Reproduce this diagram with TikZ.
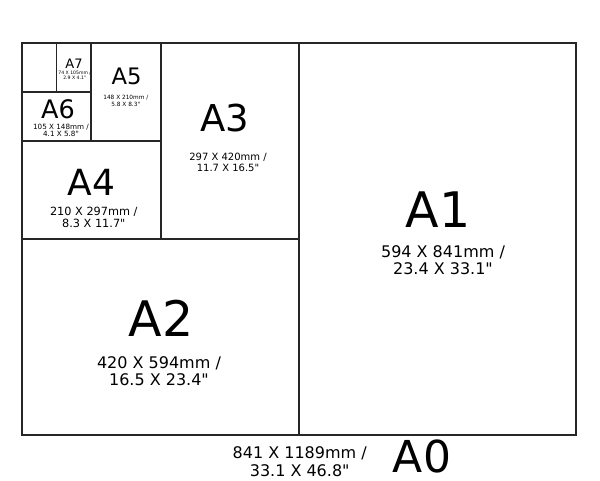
\documentclass[tikz,border=0pt]{standalone}
\usepackage{fontspec}
\setmainfont{DejaVu Sans}[Ligatures=TeXOff]
\tikzset{
  sheet/.style={line width=1.5pt, draw=black!85},
  papername/.style={inner sep=0pt, anchor=base},
  papersize/.style={inner sep=0pt, align=center},
}
\begin{document}
\begin{tikzpicture}[x=1pt,y=-1pt]
        \useasboundingbox (0,0) rectangle (600,480);

        % Draw the A0 sheet
        \draw[sheet] (22,43) rectangle (576,435);

        % Halve it again and again
        \draw[sheet] (299,43) -- (299,435);
        \draw[sheet] (22,239) -- (299,239);
        \draw[sheet] (161,43) -- (161,239);
        \draw[sheet] (22,141) -- (161,141);
        \draw[sheet] (91,43) -- (91,141);
        \draw[sheet] (22,92) -- (91,92);
        \draw[sheet] (56.5,43) -- (56.5,92);

        % Add names and sizes
        \node[papername, font=\fontsize{49}{49}\selectfont] (nameA1) at (438,227) {A1};
        \node[papersize, font=\fontsize{16}{17.5}\selectfont] (sizeA1) at (443,260) {594 X 841mm /\\23.4 X 33.1"};

        \node[papername, font=\fontsize{49}{49}\selectfont] (nameA2) at (161,336.7) {A2};
        \node[papersize, font=\fontsize{16}{17}\selectfont] (sizeA2) at (159,371.5) {420 X 594mm /\\16.5 X 23.4"};

        \node[papername, font=\fontsize{37}{37}\selectfont] (nameA3) at (225,131.7) {A3};
        \node[papersize, font=\fontsize{10}{11}\selectfont] (sizeA3) at (228,162.2) {297 X 420mm /\\11.7 X 16.5"};

        \node[papername, font=\fontsize{36}{36}\selectfont] (nameA4) at (91.7,195) {A4};
        \node[papersize, font=\fontsize{11.3}{12}\selectfont] (sizeA4) at (93.8,217.8) {210 X 297mm /\\8.3 X 11.7"};

        \node[papername, font=\fontsize{22.7}{22.7}\selectfont] (nameA5) at (126.7,84.3) {A5};
        \node[papersize, font=\fontsize{5.8}{7.3}\selectfont] (sizeA5) at (125.8,100.7) {148 X 210mm /\\5.8 X 8.3"};

        \node[papername, font=\fontsize{25.5}{25.5}\selectfont] (nameA6) at (58,118) {A6};
        \node[papersize, font=\fontsize{7.2}{7}\selectfont] (sizeA6) at (61,130.7) {105 X 148mm /\\4.1 X 5.8"};

        \node[papername, font=\fontsize{13}{13}\selectfont] (nameA7) at (74,68) {A7};
        \node[papersize, font=\fontsize{4.6}{5}\selectfont] (sizeA7) at (74.7,75) {74 X 105mm /\\2.9 X 4.1"};

        \node[papername, font=\fontsize{44}{44}\selectfont] (nameA0) at (422,472) {A0};
        \node[papersize, font=\fontsize{16}{18}\selectfont] (sizeA0) at (299.7,461.3) {841 X 1189mm /\\33.1 X 46.8"};
\end{tikzpicture}
\end{document}
